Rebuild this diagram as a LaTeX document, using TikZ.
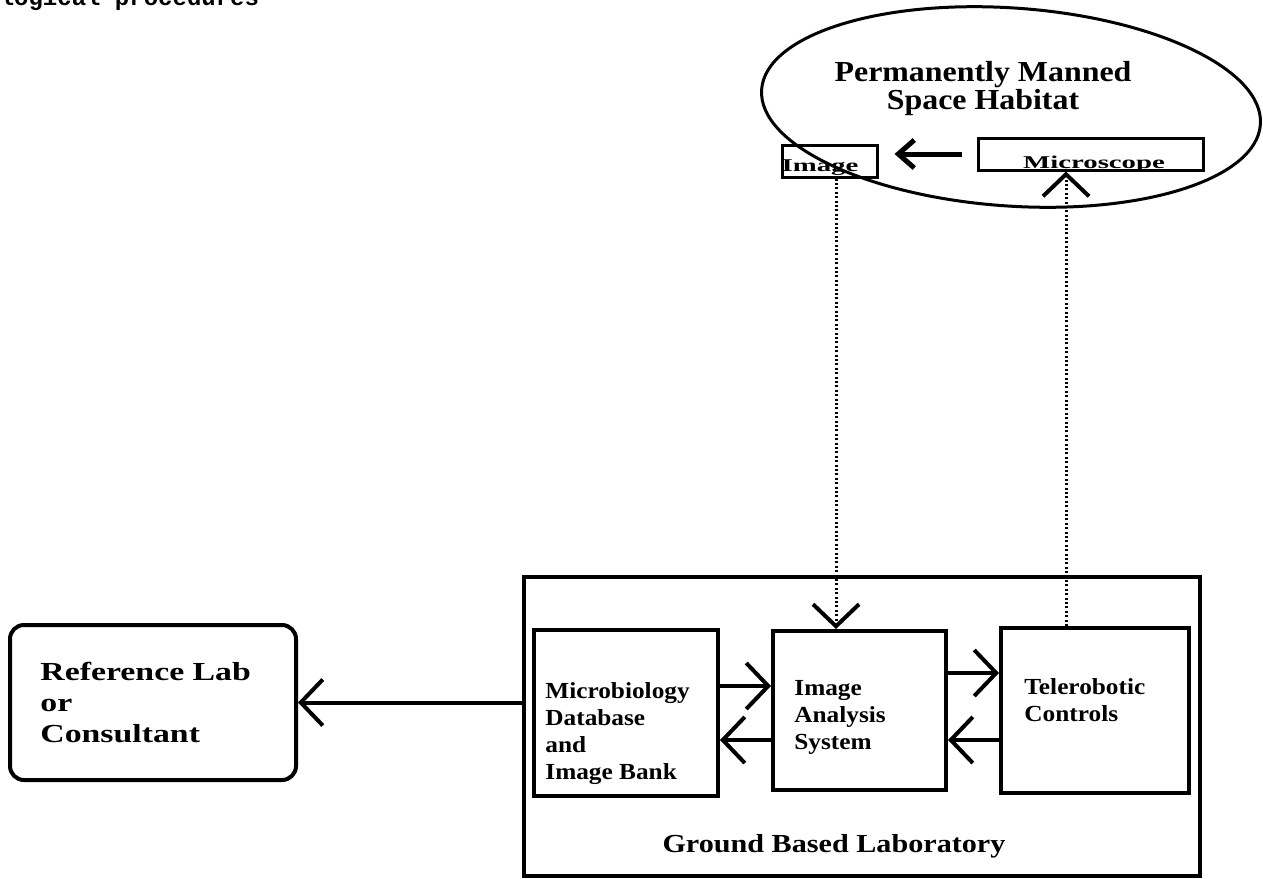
\documentclass[tikz,border=0pt]{standalone}
\usepackage{fontspec}
\setmainfont{Liberation Serif}
\newfontfamily\titleserif[FakeStretch=1.1]{Liberation Serif}
\newfontfamily\wideserif[FakeStretch=1.3]{Liberation Serif}
\newfontfamily\labserif[FakeStretch=1.16]{Liberation Serif}
\newfontfamily\boxserif[FakeStretch=1.1]{Liberation Serif}
\newfontfamily\tagserif[FakeStretch=1.6]{Liberation Serif}
\newfontfamily\typewriter{Liberation Mono}
\usetikzlibrary{arrows.meta,shapes.geometric}

\begin{document}
\begin{tikzpicture}[x=0.5pt,y=-0.5pt,
  box/.style={draw,line width=2pt,rectangle,inner sep=0pt},
  txt/.style={inner sep=0pt,align=left},
  boxtext/.style={txt,anchor=north west,font=\boxserif\bfseries\fontsize{11.5}{13.5}\selectfont},
  arr/.style={line width=2pt,-{Straight Barb[length=11pt,width=23pt]}},
  link/.style={line width=1.5pt,dash pattern=on 1pt off 1.2pt,
    -{Straight Barb[length=11pt,width=23pt,line width=2pt]}}
]
\useasboundingbox (0,0) rectangle (1263,878);
\clip (0,0) rectangle (1263,878);

% line of running text cut by the page edge
\node[txt,anchor=base west,font=\typewriter\bfseries\fontsize{12}{14}\selectfont] (topline) at (-15,5) {ological procedures};

% ground laboratory
\node[box,minimum width=143pt,minimum height=77.5pt,rounded corners=7pt] (ref) at (153,702.5) {};
\node[box,minimum width=338pt,minimum height=149.5pt] (ground) at (862,726.5) {};
\node[box,minimum width=92pt,minimum height=83pt] (micro) at (626,713) {};
\node[box,minimum width=86.5pt,minimum height=79.5pt] (ia) at (859.5,710.5) {};
\node[box,minimum width=94pt,minimum height=82.5pt] (tc) at (1095,710.5) {};

\node[txt,anchor=north west,font=\wideserif\bfseries\fontsize{13}{15.5}\selectfont] (reftxt) at (40,662) {Reference Lab\\or\\Consultant};
\node[boxtext] (microtxt) at (545,682) {Microbiology\\Database\\and\\Image Bank};
\node[boxtext] (iatxt) at (794,680) {Image\\Analysis\\System};
\node[boxtext] (tctxt) at (1024,678) {Telerobotic\\Controls};
\node[txt,anchor=north,font=\labserif\bfseries\fontsize{13}{15}\selectfont] (gtxt) at (834,834) {Ground Based Laboratory};

% space habitat
\node[draw,ellipse,line width=1.5pt,minimum width=250pt,minimum height=99pt,rotate=-4] (hab) at (1011,107) {};
\node[txt,anchor=north,align=center,font=\titleserif\bfseries\fontsize{14.5}{10.5}\selectfont] (habtitle) at (983,61) {Permanently Manned\\Space Habitat};
\node[box,line width=1.5pt,minimum width=47.5pt,minimum height=16pt] (img) at (829.5,161) {};
\node[box,line width=1.5pt,minimum width=112.5pt,minimum height=16pt] (mic) at (1090.5,154) {};
\node[txt,anchor=base,font=\tagserif\bfseries\fontsize{9}{10}\selectfont] (imgtxt) at (820,171) {Image};
\node[txt,anchor=base,font=\tagserif\bfseries\fontsize{9}{10}\selectfont] (mictxt) at (1094,168) {Microscope};

% connectors
\coordinate (row1) at (0,686);
\coordinate (row2) at (0,740);
\coordinate (row3) at (0,673);
\coordinate (v1) at (836,0);
\coordinate (v2) at (1066,0);
\draw[arr] (micro.east |- row1) -- (ia.west |- row1);
\draw[arr] (ia.west |- row2) -- (micro.east |- row2);
\draw[arr] (ia.east |- row3) -- (tc.west |- row3);
\draw[arr] (tc.west |- row2) -- (ia.east |- row2);
\draw[arr] (ground.west |- ref.east) -- (ref.east);
\draw[link] (img.south -| v1) -- (ia.north -| v1);
\draw[link] (tc.north -| v2) -- (mic.south -| v2);
\draw[line width=2.5pt,-{Straight Barb[length=8pt,width=14pt]},shorten <=7.5pt,shorten >=8pt] (mic.west) -- (img.east |- mic.west);
\end{tikzpicture}
\end{document}
